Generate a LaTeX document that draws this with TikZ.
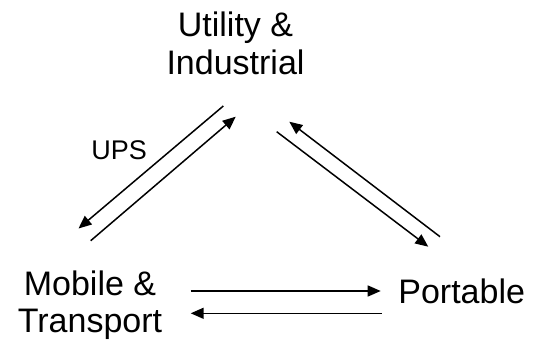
\documentclass[tikz,border=0pt]{standalone}
\usepackage{fontspec}
\setmainfont{Liberation Sans}
\usetikzlibrary{arrows.meta}

\begin{document}
\begin{tikzpicture}[x=1pt, y=-1pt,
  label/.style={anchor=base, inner sep=0pt, font=\fontsize{34}{37.8}\selectfont},
  small/.style={anchor=base, inner sep=0pt, font=\fontsize{27}{30}\selectfont},
  flow/.style={line width=1.5pt, -{Triangle[length=13pt, width=11pt]}}]
  % canvas
  \useasboundingbox (0,0) rectangle (536,342);

  % market segments
  \node[label] (util) at (235.5,36.7)
    {\begin{tabular}[t]{@{}c@{}}Utility \&\\Industrial\end{tabular}};
  \node[label] (mobile) at (90,295)
    {\begin{tabular}[t]{@{}c@{}}Mobile \&\\Transport\end{tabular}};
  \node[label] (port) at (461.7,303.3) {Portable};
  \node[small] (ups) at (119.2,159.3) {UPS};

  % arrow end points
  \coordinate (um-s) at (223.3,106);   \coordinate (um-e) at (78.5,228.5);
  \coordinate (mu-s) at (90.7,240.7);  \coordinate (mu-e) at (235.7,116.7);
  \coordinate (up-s) at (276.7,131.7); \coordinate (up-e) at (428.3,246.7);
  \coordinate (pu-s) at (440,236.7);   \coordinate (pu-e) at (289.3,121.7);
  \coordinate (mp-s) at (190.7,291);   \coordinate (mp-e) at (380.7,291);
  \coordinate (pm-s) at (381.5,313.3); \coordinate (pm-e) at (190.7,313.3);

  % flows between segments
  \draw[flow] (um-s) -- (um-e);
  \draw[flow] (mu-s) -- (mu-e);
  \draw[flow] (up-s) -- (up-e);
  \draw[flow] (pu-s) -- (pu-e);
  \draw[flow] (mp-s) -- (mp-e);
  \draw[flow] (pm-s) -- (pm-e);
\end{tikzpicture}
\end{document}
